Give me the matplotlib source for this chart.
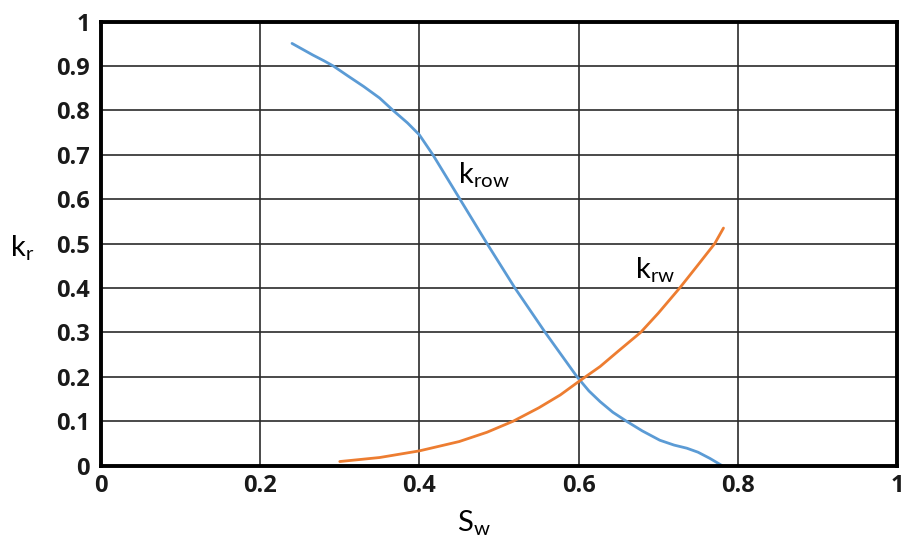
import matplotlib
matplotlib.use("Agg")
import matplotlib.pyplot as plt

# Courbes de perméabilité relative
sw_row = [0.24, 0.266, 0.28, 0.292, 0.31, 0.33, 0.35, 0.367, 0.385, 0.40, 0.417, 0.434, 0.451, 0.468,
          0.485, 0.52, 0.558, 0.598, 0.613, 0.627, 0.643, 0.66, 0.68, 0.702, 0.72, 0.736, 0.75, 0.765, 0.78]
krow = [0.951, 0.925, 0.912, 0.90, 0.878, 0.854, 0.828, 0.80, 0.772, 0.745, 0.70, 0.65, 0.60, 0.55,
        0.50, 0.40, 0.30, 0.20, 0.168, 0.144, 0.12, 0.10, 0.078, 0.057, 0.046, 0.039, 0.03, 0.016, 0.0]

sw_rw = [0.30, 0.35, 0.40, 0.45, 0.485, 0.518, 0.55, 0.577, 0.60, 0.627, 0.65, 0.678, 0.70, 0.727, 0.75, 0.771, 0.782]
krw = [0.009, 0.018, 0.033, 0.054, 0.075, 0.10, 0.13, 0.159, 0.189, 0.223, 0.258, 0.30, 0.343, 0.40, 0.452, 0.50, 0.535]

ticks = [0, 0.2, 0.4, 0.6, 0.8, 1]
tick_labels = ["0", "0.2", "0.4", "0.6", "0.8", "1"]
yticks = [i / 10 for i in range(11)]
ytick_labels = ["0"] + [f"0.{i}" for i in range(1, 10)] + ["1"]

plt.rcParams["font.family"] = ["Lato", "DejaVu Sans"]
plt.rcParams["mathtext.fontset"] = "custom"
plt.rcParams["mathtext.rm"] = "Lato"
plt.rcParams["mathtext.it"] = "Lato"

fig = plt.figure(figsize=(9.08, 5.46), dpi=100)
ax = fig.add_axes([0.1112, 0.1474, 0.8767, 0.8129])

ax.plot(sw_row, krow, color="#5B9BD5", linewidth=2.0, solid_capstyle="round", solid_joinstyle="round")
ax.plot(sw_rw, krw, color="#ED7D31", linewidth=2.0, solid_capstyle="round", solid_joinstyle="round")

ax.set_xlim(0, 1)
ax.set_ylim(0, 1)
ax.set_xticks(ticks)
ax.set_xticklabels(tick_labels, fontsize=17, fontweight="bold", family=["Open Sans", "DejaVu Sans"])
ax.set_yticks(yticks)
ax.set_yticklabels(ytick_labels, fontsize=17, fontweight="bold", family=["Open Sans", "DejaVu Sans"])
ax.tick_params(axis="both", length=0, colors="#1a1a1a")
ax.tick_params(axis="x", pad=6)
ax.tick_params(axis="y", pad=8)

ax.grid(True, color="#2b2b2b", linewidth=1.2)
ax.set_axisbelow(True)
for side in ["left", "right", "top", "bottom"]:
    ax.spines[side].set_linewidth(2.8)
    ax.spines[side].set_color("black")

ax.text(0.449, 0.655, r"$\mathregular{k_{row}}$", fontsize=21, va="center", ha="left")
ax.text(0.671, 0.44, r"$\mathregular{k_{rw}}$", fontsize=21, va="center", ha="left")

fig.text(0.011, 0.545, r"$\mathregular{k_{r}}$", fontsize=21, va="center", ha="left")
fig.text(0.503, 0.042, r"$\mathregular{S_{w}}$", fontsize=21, va="center", ha="left")

fig.savefig("out.png", dpi=100)
